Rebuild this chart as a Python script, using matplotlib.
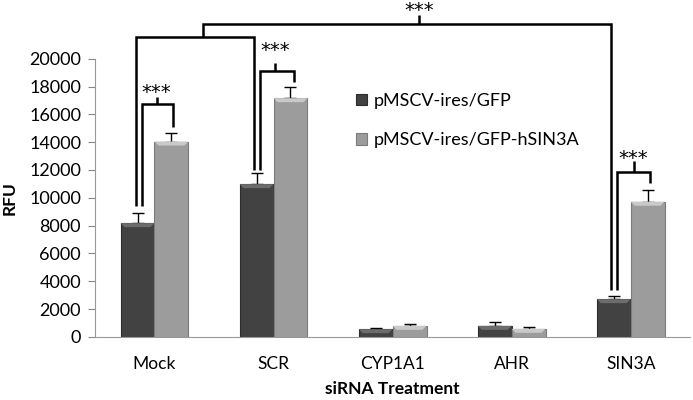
import matplotlib
matplotlib.use('Agg')
from matplotlib import pyplot as plt
import numpy as np

plt.rcParams['font.family'] = ['Lato', 'DejaVu Sans']

categories = ['Mock', 'SCR', 'CYP1A1', 'AHR', 'SIN3A']
gfp = [8180, 10985, 550, 790, 2710]
gfp_err = [700, 790, 80, 310, 250]
sin3a = [14050, 17170, 790, 575, 9720]
sin3a_err = [630, 780, 95, 125, 840]
series_names = ['pMSCV-ires/GFP', 'pMSCV-ires/GFP-hSIN3A']

fig = plt.figure(figsize=(6.93, 4.00), dpi=100)
ax = fig.add_axes([0.137, 0.158, 0.859, 0.695])

x = np.arange(len(categories))
w = 0.285
bars1 = ax.bar(x - w / 2, gfp, w, color='#424242', edgecolor='#2c2c2c', linewidth=0.8,
               label=series_names[0])
bars2 = ax.bar(x + w / 2, sin3a, w, color='#9c9c9c', edgecolor='#7c7c7c', linewidth=0.8,
               label=series_names[1])

# little bevel on top of each bar, like the office 3d style
def bevel(bars, col):
    dx, dy = 0.034, 290
    for r in bars:
        x0, x1, h = r.get_x(), r.get_x() + r.get_width(), r.get_height()
        ax.fill([x0, x1, x1 - dx, x0 + dx], [h, h, h - dy, h - dy], color=col, lw=0, zorder=2.5)

bevel(bars1, '#6c6c6c')
bevel(bars2, '#c9c9c9')

# only the upper half of the error bars is drawn
ax.errorbar(x - w / 2, gfp, yerr=[np.zeros(5), gfp_err], fmt='none', ecolor='black',
            elinewidth=1, capsize=4, capthick=1)
ax.errorbar(x + w / 2, sin3a, yerr=[np.zeros(5), sin3a_err], fmt='none', ecolor='black',
            elinewidth=1, capsize=4, capthick=1)

ax.set_xlim(-0.5, 4.5)
ax.set_ylim(0, 20000)
ax.set_yticks(np.arange(0, 20001, 2000))
ax.set_xticks(x)
ax.set_xticklabels(categories, fontsize=12.5)
ax.tick_params(axis='y', labelsize=13, length=5, color='#888888', pad=5)
ax.tick_params(axis='x', length=0, pad=14)
for s in ['top', 'right']:
    ax.spines[s].set_visible(False)
ax.spines['left'].set_color('#999999')
ax.spines['bottom'].set_color('#999999')
ax.set_ylabel('RFU', fontsize=12.5, fontweight='bold', labelpad=8)
ax.set_xlabel('siRNA Treatment', fontsize=12.5, fontweight='bold', labelpad=6)

# significance brackets (data coords, allowed outside axes)
kw = dict(color='black', lw=1.8, clip_on=False, solid_capstyle='butt', solid_joinstyle='miter')
star_kw = dict(ha='center', va='center', fontsize=14, family='DejaVu Sans', clip_on=False)

def bracket(x0, x1, y, y0, y1, xs, ytop, ystar):
    ax.plot([x0, x0, x1, x1], [y0, y, y, y1], **kw)
    ax.plot([xs, xs], [y, ytop], **kw)
    ax.text(xs, ystar, '***', **star_kw)

bracket(-0.108, 0.158, 16741, 9403, 15108, 0.018, 17266, 17550)
bracket(0.886, 1.175, 19115, 11993, 18345, 1.013, 19669, 20600)
bracket(3.884, 4.158, 11827, 3360, 11079, 4.024, 12662, 12850)
# Mock+SCR vs SIN3A
ax.plot([-0.158, -0.158, 0.836, 0.836], [9403, 21597, 21597, 11993], **kw)
ax.plot([0.405, 0.405, 3.834, 3.834], [21597, 22496, 22496, 3360], **kw)
ax.plot([2.22, 2.22], [22496, 23150], **kw)
ax.text(2.22, 23450, '***', **star_kw)

ax.legend(loc='upper left', bbox_to_anchor=(356 / 693, 1 - 93 / 400),
          bbox_transform=fig.transFigure, frameon=False, fontsize=13,
          handlelength=0.6, handleheight=0.6, handletextpad=0.4, labelspacing=1.3,
          borderpad=0, borderaxespad=0)

fig.savefig('out.png', dpi=100)
